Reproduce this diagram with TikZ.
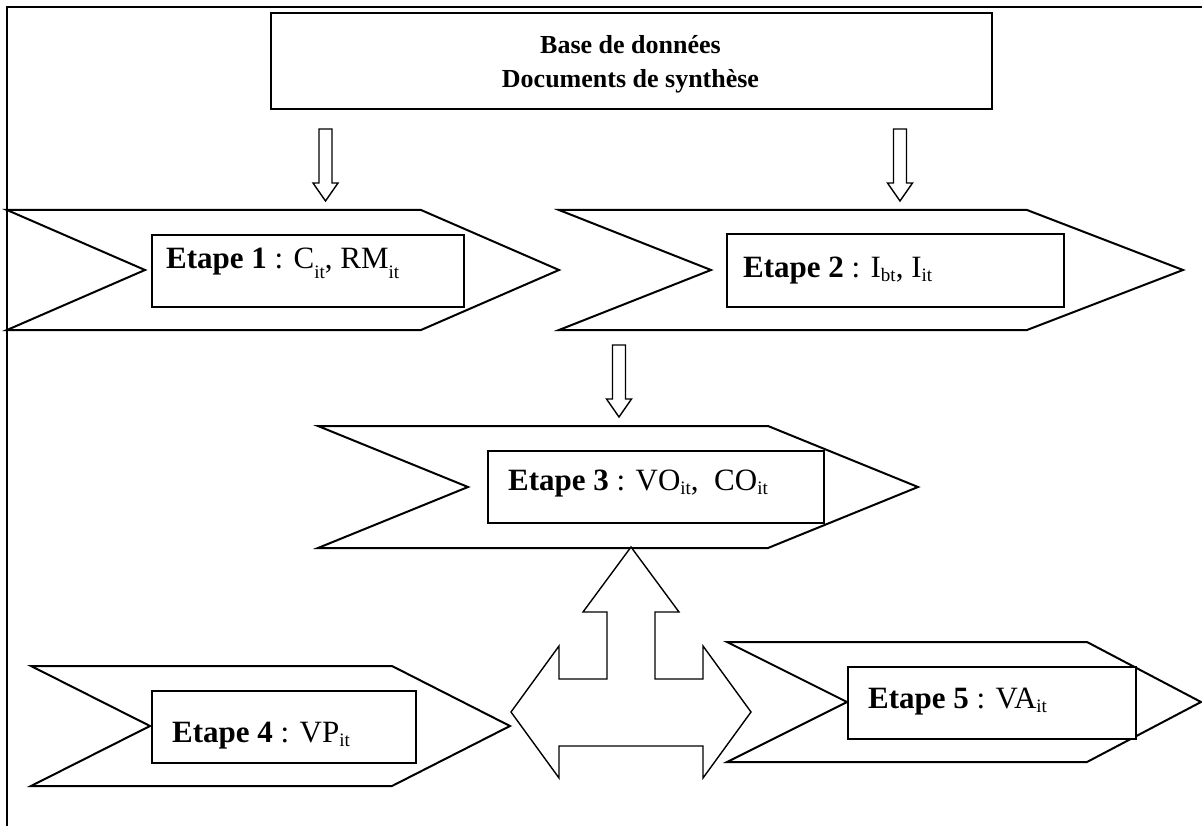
\documentclass[tikz,border=0pt]{standalone}
\usepackage{fontspec}
\setmainfont{Liberation Serif}
\newcommand\sbs[1]{\raisebox{-4pt}{\fontsize{19}{19}\selectfont #1}}
\newcommand\sbd[1]{\raisebox{-10pt}{\fontsize{19}{19}\selectfont #1}}
% chevron: xl, xn, xc, xt, ytop, ybot
\newcommand\chevron[6]{%
  \draw[chev] (#1,#5) -- (#3,#5) -- (#4,{(#5+#6)/2}) -- (#3,#6) -- (#1,#6) -- (#2,{(#5+#6)/2}) -- cycle;}
% block down arrow: cx, ytop, yhead, ytip
\newcommand\blockdown[4]{%
  \draw[blockarrow] ({#1-6.5},#2) -- ({#1+6.5},#2) -- ({#1+6.5},#3) -- ({#1+12.5},#3) -- (#1,#4) -- ({#1-12.5},#3) -- ({#1-6.5},#3) -- cycle;}
\begin{document}
\begin{tikzpicture}[x=1pt,y=-1pt,line join=miter,
  frame/.style={line width=2.8pt},
  chev/.style={draw,line width=2pt,fill=white},
  stepbox/.style={draw,line width=2pt,fill=white,inner sep=0pt,anchor=north west},
  blockarrow/.style={draw,line width=1.4pt,fill=white},
  lbl/.style={inner sep=0pt,anchor=base west,font=\fontsize{31}{36}\selectfont},
  title/.style={inner sep=0pt,anchor=base,font=\fontsize{26}{30}\selectfont\bfseries}]
\useasboundingbox (0,0) rectangle (1202,826);
\fill[white] (0,0) rectangle (1202,826);
% frame
\draw[frame] (1203,7) -- (7,7) -- (7,827);
% top box
\node[stepbox,line width=1.6pt,minimum width=721pt,minimum height=96pt] (db) at (270,12) {};
\node[title] (dbt1) at (630.5,54) {Base de données};
\node[title] (dbt2) at (630.5,88) {Documents de synthèse};
% chevrons
\chevron{7}{145}{421}{559}{210}{330}
\chevron{559}{711}{1027}{1183}{210}{330}
\chevron{318}{468}{768}{918}{426}{548}
\chevron{31}{150}{392}{510}{666}{786}
\chevron{727}{847}{1087}{1201}{642}{762}
% boxes
\node[stepbox,minimum width=312pt,minimum height=72pt] (b1) at (151,234) {};
\node[stepbox,minimum width=337pt,minimum height=73pt] (b2) at (726,233) {};
\node[stepbox,minimum width=336pt,minimum height=72pt] (b3) at (487,450) {};
\node[stepbox,minimum width=264pt,minimum height=72pt] (b4) at (151,690) {};
\node[stepbox,minimum width=288pt,minimum height=72pt] (b5) at (847,666) {};
% labels
\node[lbl] (t1) at (166,269) {\textbf{Etape 1} : C\sbd{it}, RM\sbd{it}};
\node[lbl] (t2) at (743,278) {\textbf{Etape 2} : I\sbs{bt}, I\sbs{it}};
\node[lbl] (t3) at (508,490) {\textbf{Etape 3} : VO\sbs{it},\ \ CO\sbs{it}};
\node[lbl] (t4) at (172,742) {\textbf{Etape 4} : VP\sbs{it}};
\node[lbl] (t5) at (868,708) {\textbf{Etape 5} : VA\sbs{it}};
% block arrows
\blockdown{325.5}{129}{183}{201}
\blockdown{900}{129}{183}{201}
\blockdown{619}{345}{399}{417}
\draw[blockarrow] (631,547) -- (679,612) -- (655,612) -- (655,679) -- (703,679) -- (703,646)
  -- (751,712) -- (703,778) -- (703,746) -- (559,746) -- (559,778) -- (511,712) -- (559,646)
  -- (559,679) -- (607,679) -- (607,612) -- (583,612) -- cycle;
\end{tikzpicture}
\end{document}
